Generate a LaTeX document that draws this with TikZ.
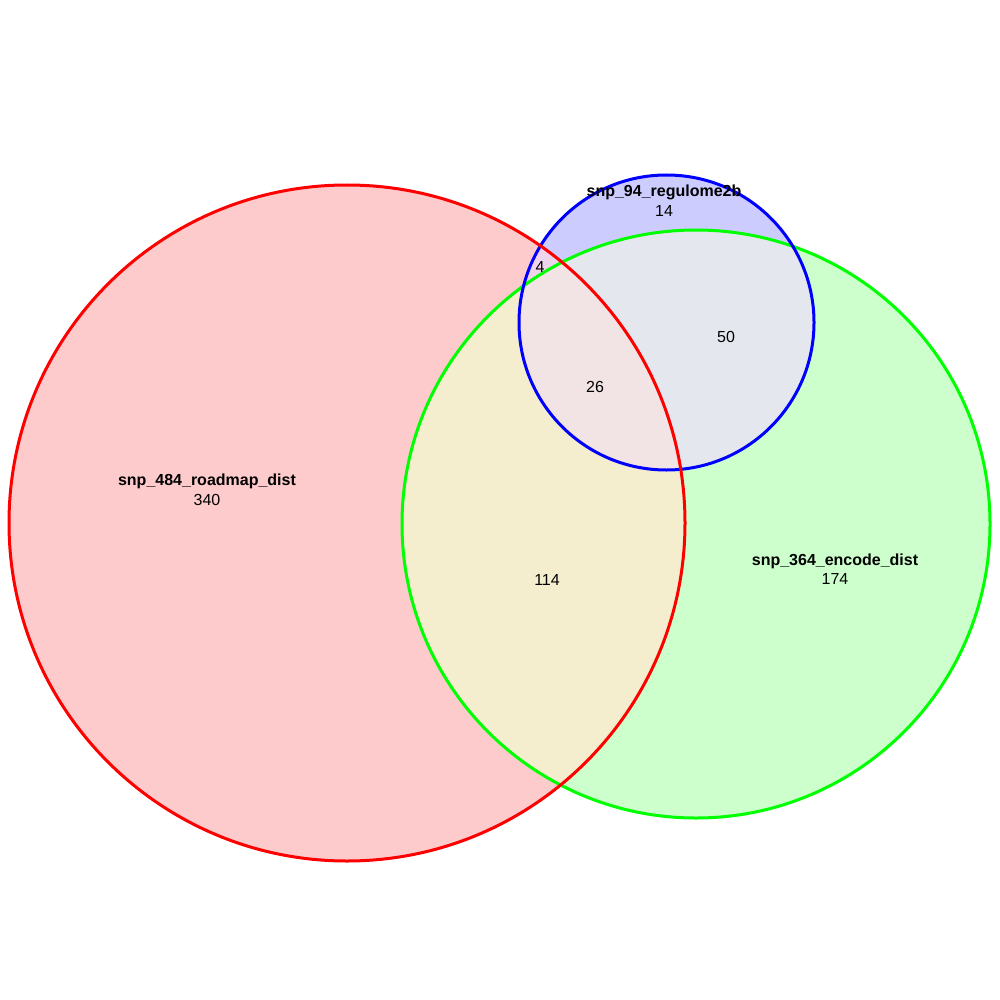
\documentclass[tikz,border=0pt]{standalone}
\usepackage{fontspec}
\setmainfont{Liberation Sans}
\definecolor{ronly}{HTML}{FDCBCB}
\definecolor{gonly}{HTML}{CCFFCC}
\definecolor{bonly}{HTML}{CCCCFF}
\definecolor{rg}{HTML}{F4EECF}
\definecolor{bg}{HTML}{E4E8EE}
\definecolor{rb}{HTML}{F0D4EE}
\definecolor{rgb}{HTML}{F2E4E4}
\begin{document}
\begin{tikzpicture}[x=1pt,y=-1pt,
  lab/.style={anchor=base,inner sep=0pt,font=\fontsize{16}{19}\selectfont\bfseries},
  num/.style={anchor=base,inner sep=0pt,font=\fontsize{16}{19}\selectfont},
  edge/.style={line width=3pt}]
\useasboundingbox (0,0) rectangle (1000,1000);
\fill[white] (0,0) rectangle (1000,1000);
\def\redc{(347,523) circle [radius=338]}
\def\greenc{(696,524) circle [radius=294]}
\def\bluec{(666.5,322.5) circle [radius=147.5]}
\fill[ronly] \redc;
\fill[gonly] \greenc;
\fill[bonly] \bluec;
\begin{scope}\clip \redc; \fill[rg] \greenc; \end{scope}
\begin{scope}\clip \bluec; \fill[bg] \greenc; \end{scope}
\begin{scope}\clip \redc; \fill[rb] \bluec; \end{scope}
\begin{scope}\clip \redc; \clip \bluec; \fill[rgb] \greenc; \end{scope}
\draw[edge,color={rgb,255:red,0;green,255;blue,0}] \greenc;
\draw[edge,blue] \bluec;
\draw[edge,red] \redc;
\node[lab] (tR) at (207,485) {snp\_484\_roadmap\_dist};
\node[num] (nR) at (207,505) {340};
\node[lab] (tG) at (835,565) {snp\_364\_encode\_dist};
\node[num] (nG) at (835,584.5) {174};
\node[lab] (tB) at (664,197) {snp\_94\_regulome2b};
\node[num] (nB) at (664,216.5) {14};
\node[num] (nRB) at (540,272) {4};
\node[num] (nBG) at (726,342) {50};
\node[num] (nRGB) at (595,392) {26};
\node[num] (nRG) at (547,585) {114};
\end{tikzpicture}
\end{document}
